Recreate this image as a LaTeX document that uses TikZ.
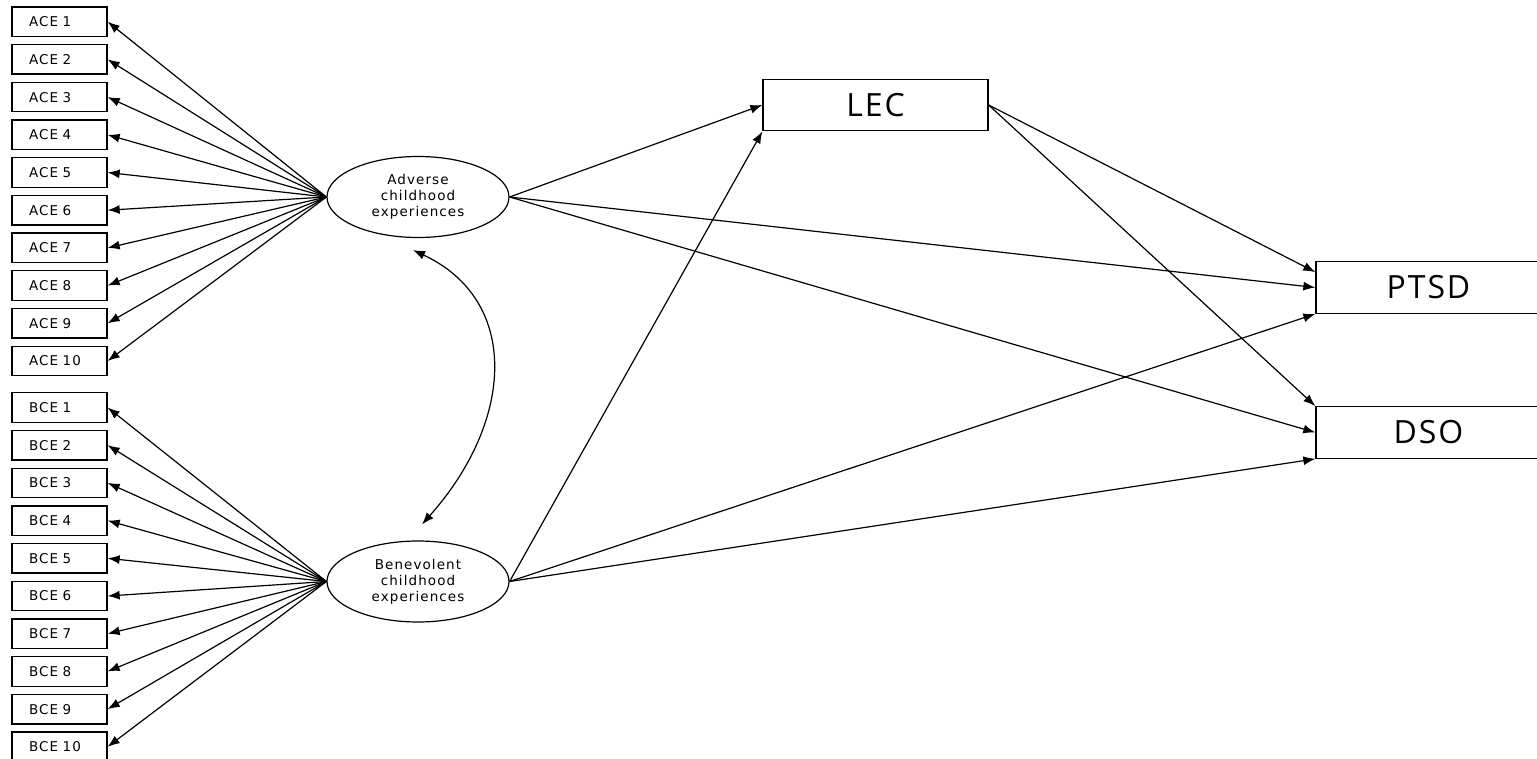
\documentclass[tikz,border=0pt]{standalone}
\usepackage{fontspec}
\newfontfamily\smallfont[LetterSpace=8]{DejaVu Sans}
\newfontfamily\bigfont[LetterSpace=6]{Open Sans}
\usetikzlibrary{arrows.meta,shapes.geometric,calc}
\begin{document}
\begin{tikzpicture}[x=1pt,y=-1pt,
  ind/.style={draw, line width=1.3pt, inner xsep=17pt, inner ysep=0pt, text width=61pt,
    minimum height=29.5pt, align=left, font=\smallfont\fontsize{13.5}{14}\selectfont},
  latent/.style={draw, ellipse, line width=1.2pt, inner sep=0pt, minimum width=182pt,
    minimum height=81pt, align=center, font=\smallfont\fontsize{13.5}{16}\selectfont},
  outc/.style={draw, line width=1.3pt, inner sep=0pt, minimum width=225pt, minimum height=51.5pt,
    font=\bigfont\fontsize{32}{34}\selectfont},
  arr/.style={line width=1.2pt, -{Latex[length=12pt,width=9pt]}},
  darr/.style={line width=1.2pt, {Latex[length=12pt,width=9pt]}-{Latex[length=12pt,width=9pt]}}]
\clip (0,0) rectangle (1537,759);
\fill[white] (0,0) rectangle (1537,759);
% indicators
\foreach \i in {1,...,10} {
  \node[ind] (a\i) at (59.5,{21.7+(\i-1)*37.7}) {ACE \i};
  \node[ind] (b\i) at (59.5,{407.5+(\i-1)*37.7}) {BCE \i};
}
% latent variables
\node[latent] (adv) at (418,197) {Adverse\\childhood\\experiences};
\node[latent] (ben) at (418,581.5) {Benevolent\\childhood\\experiences};
% outcomes
\node[outc] (lec) at (875.5,105) {LEC};
\node[outc] (ptsd) at (1428.5,287.5) {PTSD};
\node[outc] (dso) at (1428.5,432.5) {DSO};
% loadings
\foreach \i in {1,...,10} {
  \draw[arr] (adv.west) -- (a\i.east);
  \draw[arr] (ben.west) -- (b\i.east);
}
% structural paths
\draw[arr] (adv.east) -- (lec.west);
\draw[arr] (ben.east) -- (lec.south west);
\draw[arr] (lec.east) -- ([yshift=-11pt]ptsd.north west);
\draw[arr] (lec.east) -- (dso.north west);
\draw[arr] (adv.east) -- (ptsd.west);
\draw[arr] (adv.east) -- (dso.west);
\draw[arr] (ben.east) -- (ptsd.south west);
\draw[arr] (ben.east) -- (dso.south west);
% covariance
\coordinate (ct) at ([shift={(-5pt,-12pt)}]adv.south);
\coordinate (cb) at ([shift={(4pt,16pt)}]ben.north);
\draw[darr] (ct) .. controls (520,300) and (515,420) .. (cb);
\end{tikzpicture}
\end{document}
